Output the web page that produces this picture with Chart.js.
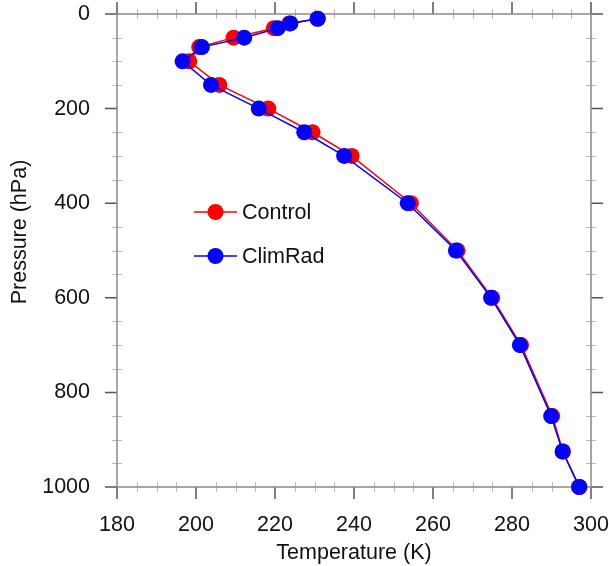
<!DOCTYPE html>
<html>
<head>
<meta charset="utf-8">
<script src="https://cdn.jsdelivr.net/npm/chart.js@4.4.1/dist/chart.umd.min.js"></script>
<style>
  html, body { margin: 0; padding: 0; background: #fff; }
  #wrap { width: 609px; height: 566px; }
</style>
</head>
<body>
<div id="wrap"><canvas id="profile" width="609" height="566"></canvas></div>
<script>
// Temperature profiles on pressure levels
const pressure = [10, 20, 30, 50, 70, 100, 150, 200, 250, 300, 400, 500, 600, 700, 850, 925, 1000];
const tempControl = [230.8, 223.6, 219.7, 209.5, 200.8, 198.3, 205.9, 218.3, 229.5, 239.4, 254.4, 266.2, 275.0, 282.3, 290.2, 292.9, 297.1];
const tempClimRad = [230.8, 223.9, 220.7, 212.2, 201.5, 196.6, 203.8, 215.9, 227.4, 237.5, 253.6, 265.8, 274.7, 282.0, 289.9, 292.8, 297.0];

const xTicks = [180, 200, 220, 240, 260, 280, 300];
const yTicks = [0, 200, 400, 600, 800, 1000];

const FONT = "'Liberation Sans', Arial, Helvetica, sans-serif";
const FSIZE = 21.5;

function toPoints(temps) {
  return temps.map((t, i) => ({ x: t, y: pressure[i] }));
}

// keep the plot box fixed: no extra room for overhanging labels
function fixBox(size, key) {
  return s => {
    s[key] = size;
    s.paddingTop = s.paddingBottom = s.paddingLeft = s.paddingRight = 0;
  };
}

// frame with outward major ticks and small minor ticks on all four sides
const frameTicks = {
  id: "frameTicks",
  beforeDatasetsDraw(chart) {
    const { ctx, chartArea: a, scales } = chart;
    const xs = scales.x, ys = scales.y;
    ctx.save();
    ctx.lineCap = "butt";

    // minor ticks
    ctx.strokeStyle = "#b8b8b8";
    ctx.lineWidth = 1;
    ctx.beginPath();
    for (let v = xs.min; v <= xs.max; v += 5) {
      if (v % 20 === 0) continue;
      const px = Math.round(xs.getPixelForValue(v)) + 0.5;
      ctx.moveTo(px, a.bottom - 5); ctx.lineTo(px, a.bottom + 5);
      ctx.moveTo(px, a.top - 5); ctx.lineTo(px, a.top + 5);
    }
    for (let v = ys.min; v <= ys.max; v += 50) {
      if (v % 200 === 0) continue;
      const py = Math.round(ys.getPixelForValue(v)) + 0.5;
      ctx.moveTo(a.left - 5, py); ctx.lineTo(a.left + 5, py);
      ctx.moveTo(a.right - 5, py); ctx.lineTo(a.right + 5, py);
    }
    ctx.stroke();

    // major ticks
    ctx.strokeStyle = "#555";
    ctx.lineWidth = 1.5;
    ctx.beginPath();
    xTicks.forEach(v => {
      const px = xs.getPixelForValue(v);
      ctx.moveTo(px, a.bottom); ctx.lineTo(px, a.bottom + 12);
      ctx.moveTo(px, a.top); ctx.lineTo(px, a.top - 12);
    });
    yTicks.forEach(v => {
      const py = ys.getPixelForValue(v);
      ctx.moveTo(a.left, py); ctx.lineTo(a.left - 12, py);
      ctx.moveTo(a.right, py); ctx.lineTo(a.right + 12, py);
    });
    ctx.stroke();

    // frame
    ctx.strokeStyle = "#8a8a8a";
    ctx.lineWidth = 1.5;
    ctx.strokeRect(a.left, a.top, a.right - a.left, a.bottom - a.top);

    // y axis title
    ctx.fillStyle = "#111";
    ctx.font = FSIZE + "px " + FONT;
    ctx.textAlign = "center";
    ctx.textBaseline = "middle";
    ctx.translate(20, 232);
    ctx.rotate(-Math.PI / 2);
    ctx.fillText("Pressure (hPa)", 0, 0);
    ctx.restore();
  },
  afterDraw(chart) {
    // legend inside the plot
    const { ctx } = chart;
    const x0 = 194, x1 = 237, y0 = 212, gap = 44;
    ctx.save();
    chart.data.datasets.forEach((ds, i) => {
      const y = y0 + gap * i;
      ctx.strokeStyle = ds.borderColor;
      ctx.lineWidth = 1.5;
      ctx.beginPath();
      ctx.moveTo(x0, y); ctx.lineTo(x1, y);
      ctx.stroke();
      ctx.fillStyle = ds.backgroundColor;
      ctx.beginPath();
      ctx.arc((x0 + x1) / 2, y, 8, 0, Math.PI * 2);
      ctx.fill();
      ctx.fillStyle = "#111";
      ctx.font = FSIZE + "px " + FONT;
      ctx.textAlign = "left";
      ctx.textBaseline = "middle";
      ctx.fillText(ds.label, x1 + 5, y + 1);
    });
    ctx.restore();
  }
};

new Chart(document.getElementById("profile"), {
  type: "scatter",
  data: {
    datasets: [
      {
        label: "Control",
        data: toPoints(tempControl),
        showLine: true,
        borderColor: "#ff0000",
        backgroundColor: "#ff0000",
        borderWidth: 1.5,
        pointRadius: 8,
        pointBorderWidth: 0,
        clip: false,
        order: 1
      },
      {
        label: "ClimRad",
        data: toPoints(tempClimRad),
        showLine: true,
        borderColor: "#0000ff",
        backgroundColor: "#0000ff",
        borderWidth: 1.5,
        pointRadius: 8,
        pointBorderWidth: 0,
        clip: false,
        order: 0
      }
    ]
  },
  options: {
    responsive: false,
    animation: false,
    layout: { padding: { top: 14, right: 18, left: 0, bottom: 0 } },
    plugins: { legend: { display: false }, tooltip: { enabled: false } },
    scales: {
      x: {
        type: "linear",
        min: 180,
        max: 300,
        grid: { display: false, drawTicks: false },
        border: { display: false },
        afterBuildTicks: s => { s.ticks = xTicks.map(v => ({ value: v })); },
        afterFit: fixBox(79, "height"),
        ticks: {
          padding: 25, color: "#111", font: { family: FONT, size: FSIZE },
          callback: v => String(v)
        },
        title: {
          display: true,
          text: "Temperature (K)",
          color: "#111",
          font: { family: FONT, size: FSIZE },
          padding: { top: 0, bottom: 0 }
        }
      },
      y: {
        type: "linear",
        min: 0,
        max: 1000,
        reverse: true,
        grid: { display: false, drawTicks: false },
        border: { display: false },
        afterBuildTicks: s => { s.ticks = yTicks.map(v => ({ value: v })); },
        afterFit: fixBox(117, "width"),
        ticks: {
          padding: 27, color: "#111", font: { family: FONT, size: FSIZE },
          callback: v => String(v)
        }
      }
    }
  },
  plugins: [frameTicks]
});
</script>
</body>
</html>
